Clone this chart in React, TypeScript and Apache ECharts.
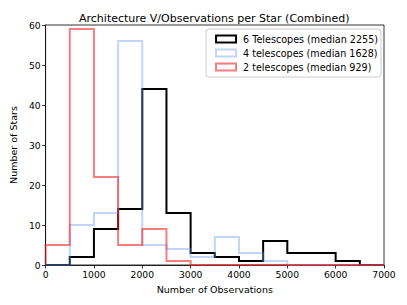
import React, { useEffect, useRef } from "react";
import * as echarts from "echarts";

const binEdges = [0, 500, 1000, 1500, 2000, 2500, 3000, 3500, 4000, 4500, 5000, 5500, 6000, 6500, 7000];
const sixTelescopes = [0, 2, 9, 14, 44, 13, 3, 2, 1, 6, 3, 3, 1, 0];
const fourTelescopes = [0, 10, 13, 56, 5, 4, 2, 7, 3, 1, 0, 0, 0, 0];
const twoTelescopes = [5, 59, 22, 5, 9, 1, 0, 0, 0, 0, 0, 0, 0, 0];
const seriesNames = [
  "6 Telescopes (median 2255)",
  "4 telescopes (median 1628)",
  "2 telescopes (median 929)",
];
const xTicks = [0, 1000, 2000, 3000, 4000, 5000, 6000, 7000];
const yTicks = [0, 10, 20, 30, 40, 50, 60];

function stepPoints(counts: number[]): number[][] {
  const pts: number[][] = [[binEdges[0], 0]];
  counts.forEach((c, i) => {
    pts.push([binEdges[i], c]);
    pts.push([binEdges[i + 1], c]);
  });
  pts.push([binEdges[binEdges.length - 1], 0]);
  return pts;
}

const FONT = "DejaVu Sans";

export default function App() {
  const ref = useRef<HTMLDivElement>(null);
  useEffect(() => {
    if (!ref.current) return;
    const chart = echarts.init(ref.current, null, { renderer: "svg" });
    const colors = ["#000000", "rgba(100,149,237,0.4)", "rgba(240,40,40,0.6)"];
    const data = [sixTelescopes, fourTelescopes, twoTelescopes];
    chart.setOption({
      animation: false,
      backgroundColor: "#fff",
      title: {
        text: "Architecture V/Observations per Star (Combined)",
        left: 74,
        top: 8,
        textStyle: { fontFamily: FONT, fontSize: 11, fontWeight: "normal", color: "#000" },
      },
      grid: {
        left: 42,
        right: 23,
        top: 25,
        bottom: 40,
        show: true,
        borderColor: "#000",
        borderWidth: 0.8,
      },
      legend: {
        orient: "vertical",
        right: 26,
        top: 29,
        padding: [5, 3, 5, 9],
        itemGap: 4,
        itemWidth: 20,
        itemHeight: 7,
        backgroundColor: "#fff",
        borderColor: "#cccccc",
        borderWidth: 1,
        borderRadius: 3,
        icon: "rect",
        textStyle: { fontFamily: FONT, fontSize: 9.6, color: "#000", padding: [0, 0, 0, 2] },
        data: seriesNames.map((n, i) => ({
          name: n,
          itemStyle: { color: "#fff", borderColor: colors[i], borderWidth: 2 },
        })),
      },
      xAxis: {
        type: "value",
        min: 0,
        max: 7000,
        interval: 1000,
        name: "Number of Observations",
        nameLocation: "middle",
        nameGap: 19,
        nameTextStyle: { fontFamily: FONT, fontSize: 9.5, color: "#000" },
        axisLine: { show: true, lineStyle: { color: "#000", width: 0.8 } },
        axisTick: { show: true, inside: false, length: 3.5, lineStyle: { color: "#000", width: 0.8 } },
        axisLabel: {
          fontFamily: FONT,
          fontSize: 9.2,
          color: "#000",
          margin: 5,
          formatter: (v: number) => (xTicks.includes(v) ? String(v) : ""),
        },
        splitLine: { show: false },
      },
      yAxis: {
        type: "value",
        min: 0,
        max: 60,
        interval: 10,
        name: "Number of Stars",
        nameLocation: "middle",
        nameGap: 27,
        nameTextStyle: { fontFamily: FONT, fontSize: 9.5, color: "#000" },
        axisLine: { show: true, lineStyle: { color: "#000", width: 0.8 } },
        axisTick: { show: true, inside: false, length: 3.5, lineStyle: { color: "#000", width: 0.8 } },
        axisLabel: {
          fontFamily: FONT,
          fontSize: 9.2,
          color: "#000",
          margin: 5,
          formatter: (v: number) => (yTicks.includes(v) ? String(v) : ""),
        },
        splitLine: { show: false },
      },
      series: data.map((d, i) => ({
        name: seriesNames[i],
        type: "line",
        data: stepPoints(d),
        showSymbol: false,
        symbol: "none",
        clip: false,
        z: 2 + i,
        color: colors[i],
        lineStyle: { color: colors[i], width: 2, join: "miter" },
        itemStyle: { color: "#fff", borderColor: colors[i], borderWidth: 2 },
      })),
    });
    return () => chart.dispose();
  }, []);
  return <div ref={ref} style={{ width: 407, height: 305, position: "absolute", left: 0, top: 0 }} />;
}
